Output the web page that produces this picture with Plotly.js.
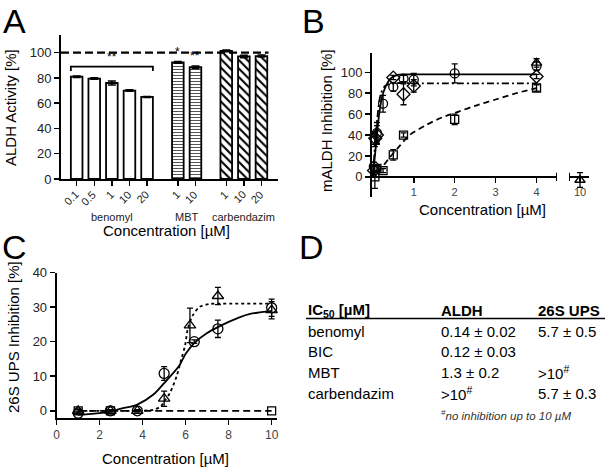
<!DOCTYPE html>
<html>
<head>
<meta charset="utf-8">
<script src="https://cdn.plot.ly/plotly-3.0.1.min.js"></script>
<style>html,body{margin:0;padding:0;background:#fff;}#chart{width:609px;height:468px;}</style>
</head>
<body>
<div id="chart"></div>
<script>
// ---------------- Panel A data ----------------
const aBenomylPos = [0, 1, 2, 3, 4];
const aBenomylLabels = ['0.1', '0.5', '1', '10', '20'];
const aBenomylVals = [81, 79.5, 76, 70, 65];
const aBenomylErr = [0.6, 0.6, 1.5, 0.6, 0.4];
const aMBTPos = [5.75, 6.75];
const aMBTLabels = ['1', '10'];
const aMBTVals = [92.3, 88.5];
const aMBTErr = [0.7, 1.0];
const aCarbPos = [8.5, 9.5, 10.5];
const aCarbLabels = ['1', '10', '20'];
const aCarbVals = [101.5, 97, 97.3];
const aCarbErr = [0.7, 1.0, 0.8];
const aGroupNames = ['benomyl', 'MBT', 'carbendazim'];
const aGroupCenters = [2, 6.25, 9.5];

// ---------------- Panel B data ----------------
const bCircX = [0.025, 0.05, 0.1, 0.25, 0.5, 0.75, 1, 2, 4];
const bCircY = [10, 35, 42, 70, 86, 94, 93, 99, 106];
const bCircE = [4, 6, 10, 8, 4, 3, 6, 9, 4];
const bDiamX = [0.03, 0.06, 0.1, 0.5, 0.75, 1, 4];
const bDiamY = [6, 37, 40, 95, 79, 87, 96];
const bDiamE = [4, 6, 9, 2, 10, 6, 2];
const bSqX = [0.05, 0.1, 0.25, 0.5, 0.75, 2, 4];
const bSqY = [0, 8, 6, 21, 40, 55, 85];
const bSqE = [11, 3, 2, 5, 2, 5, 3];
const bTriX = [4];
const bTriY = [109];
const bTriE = [4];
const bTri10X = [10];
const bTri10Y = [-3];
const bTri10E = [7];
const bFitSolidX = [0, 0.065, 0.12, 0.17, 0.23, 0.31, 0.43, 0.59, 0.76, 1, 4];
const bFitSolidY = [0, 25.6, 48, 64, 77, 86, 94, 97.4, 98, 98, 98];
const bFitDashDotX = [0, 0.05, 0.1, 0.15, 0.2, 0.3, 0.5, 1, 4];
const bFitDashDotY = [0, 28, 52, 70, 80, 87, 89.5, 89.5, 89.5];
const bFitDashX = [0.1, 0.2, 0.4, 0.6, 0.9, 1.3, 1.7, 2.1, 2.5, 3, 3.5, 4];
const bFitDashY = [5, 8, 18, 27, 40, 49.5, 57, 62.5, 68, 74, 80, 85];
const bTickVals = [1, 2, 3, 4];

// ---------------- Panel C data ----------------
const cCircX = [1, 2.5, 3.75, 5, 6.4, 7.5, 10];
const cCircY = [-0.7, 0, 0, 10.8, 20, 23.7, 29.8];
const cCircE = [0.3, 0.3, 0.3, 2, 0.5, 2.5, 2.5];
const cTriX = [1, 2.5, 3.75, 5, 6.2, 7.5, 10];
const cTriY = [0, 0, 0, 3.5, 24.7, 33.2, 29.1];
const cTriE = [0.3, 0.3, 0.3, 2.2, 5, 2.5, 2.5];
const cSqX = [1, 2.5, 10];
const cSqY = [0, 0, 0];
const cFitSolidX = [1, 2, 2.5, 3, 3.75, 4.5, 5, 5.7, 6, 6.4, 7, 7.5, 8.5, 9, 10];
const cFitSolidY = [-1.2, -0.7, -0.2, 0.6, 1.8, 4.7, 8, 13, 16.5, 19.6, 22.5, 24.2, 27, 28, 28.9];
const cFitDotX = [1, 2.5, 3.75, 4.5, 4.85, 5, 5.27, 5.58, 5.8, 5.97, 6.1, 6.33, 6.64, 7.1, 7.5, 10];
const cFitDotY = [0, 0, 0, 0.3, 1.3, 2.7, 5.2, 10, 15, 18.8, 23.7, 27.6, 30, 30.9, 31, 31];
const cFitDashX = [1, 10];
const cFitDashY = [0, 0];

// ---------------- Panel D table ----------------
const dHeader = ['<b>IC<sub>50</sub> [µM]</b>', '<b>ALDH</b>', '<b>26S UPS</b>'];
const dRowNames = ['benomyl', 'BIC', 'MBT', 'carbendazim'];
const dALDH = ['0.14 ± 0.02', '0.12 ± 0.03', '1.3 ± 0.2', '>10<sup>#</sup>'];
const dUPS = ['5.7 ± 0.5', '', '>10<sup>#</sup>', '5.7 ± 0.3'];
const dFootnote = '<i><sup>#</sup>no inhibition up to 10 µM</i>';

// ---------------- layout helpers ----------------
const W = 609, H = 468;
const PX = p => p / W;
const PY = p => 1 - p / H;
const FONT = 'Liberation Sans, Arial, Helvetica, sans-serif';
const BLACK = '#000';

const axBase = {
  showgrid: false, zeroline: false, showline: true, linecolor: BLACK, linewidth: 2,
  ticks: 'outside', ticklen: 5, tickwidth: 1.5, tickcolor: BLACK,
  tickfont: {family: FONT, size: 13, color: '#222'}, fixedrange: true
};

const traces = [];

// Panel A bars
function barTrace(x, y, err, pattern) {
  return {
    type: 'bar', x: x, y: y, xaxis: 'x', yaxis: 'y', width: 0.66,
    marker: {color: '#fff', line: {color: BLACK, width: 1.8}, pattern: pattern},
    error_y: {type: 'data', array: err, visible: true, color: BLACK, thickness: 1.5, width: 4},
    showlegend: false, hoverinfo: 'skip'
  };
}
traces.push(barTrace(aBenomylPos, aBenomylVals, aBenomylErr, {shape: ''}));
traces.push(barTrace(aMBTPos, aMBTVals, aMBTErr, {shape: '-', size: 3, solidity: 0.35, fgcolor: '#555', bgcolor: '#fff'}));
traces.push(barTrace(aCarbPos, aCarbVals, aCarbErr, {shape: '\\', size: 6, solidity: 0.35, fgcolor: BLACK, bgcolor: '#fff'}));

// Panel B
function pts(x, y, e, sym, xa, ya, size) {
  return {
    type: 'scatter', mode: 'markers', x: x, y: y, xaxis: xa, yaxis: ya, cliponaxis: false,
    marker: {symbol: sym, size: size, color: BLACK, line: {color: BLACK, width: 1.3}},
    error_y: e ? {type: 'data', array: e, visible: true, color: BLACK, thickness: 1.3, width: 3} : {visible: false},
    showlegend: false, hoverinfo: 'skip'
  };
}
function fit(x, y, dash, xa, ya) {
  return {
    type: 'scatter', mode: 'lines', x: x, y: y, xaxis: xa, yaxis: ya, cliponaxis: false,
    line: {color: BLACK, width: 1.8, dash: dash, shape: 'spline', smoothing: 0.8},
    showlegend: false, hoverinfo: 'skip'
  };
}
traces.push(fit(bFitSolidX, bFitSolidY, 'solid', 'x2', 'y2'));
traces.push(fit(bFitDashDotX, bFitDashDotY, '7px,3px,2px,3px', 'x2', 'y2'));
traces.push(fit(bFitDashX, bFitDashY, '6px,4px', 'x2', 'y2'));
traces.push(pts(bSqX, bSqY, bSqE, 'square-open', 'x2', 'y2', 8));
traces.push(pts(bDiamX, bDiamY, bDiamE, 'diamond-open', 'x2', 'y2', 10));
traces.push(pts(bCircX, bCircY, bCircE, 'circle-open', 'x2', 'y2', 9));
traces.push(pts(bTriX, bTriY, bTriE, 'triangle-up-open', 'x2', 'y2', 9));
traces.push(pts(bTri10X, bTri10Y, bTri10E, 'triangle-up-open', 'x3', 'y2', 9));

// Panel C
traces.push(fit(cFitSolidX, cFitSolidY, 'solid', 'x4', 'y4'));
traces.push(fit(cFitDotX, cFitDotY, 'dot', 'x4', 'y4'));
traces.push(fit(cFitDashX, cFitDashY, '7px,4px', 'x4', 'y4'));
traces.push(pts(cSqX, cSqY, null, 'square-open', 'x4', 'y4', 8));
traces.push(pts(cTriX, cTriY, cTriE, 'triangle-up-open', 'x4', 'y4', 10));
traces.push(pts(cCircX, cCircY, cCircE, 'circle-open', 'x4', 'y4', 10));

// Axes geometry
const aXRange = [-0.89, 11.44], aYRange = [0, 114];
const aXDom = [PX(61), PX(278)], aYDom = [PY(179), PY(35)];
const bXRange = [-0.02, 4.5], bYRange = [-19, 118.5];
const bXDom = [PX(372), PX(557)], bYDom = [PY(196.7), PY(53)];
const bX3Range = [9.45, 10.45], bX3Dom = [PX(569), PX(589)];
const bZeroPos = bYDom[0] + (0 - bYRange[0]) / (bYRange[1] - bYRange[0]) * (bYDom[1] - bYDom[0]);
const cXRange = [0, 10.25], cYRange = [-2, 40];
const cXDom = [PX(56.7), PX(277)], cYDom = [PY(417.7), PY(272.5)];

const allATicks = aBenomylPos.concat(aMBTPos, aCarbPos);
const allALabels = aBenomylLabels.concat(aMBTLabels, aCarbLabels);

const layout = {
  width: W, height: H, margin: {l: 0, r: 0, t: 0, b: 0},
  paper_bgcolor: '#fff', plot_bgcolor: 'rgba(0,0,0,0)', showlegend: false,
  font: {family: FONT, color: BLACK},
  bargap: 0,
  xaxis: Object.assign({}, axBase, {domain: aXDom, range: aXRange, anchor: 'y',
    tickvals: allATicks, showticklabels: false}),
  yaxis: Object.assign({}, axBase, {domain: aYDom, range: aYRange, anchor: 'x',
    tickvals: [0, 20, 40, 60, 80, 100]}),
  xaxis2: Object.assign({}, axBase, {domain: bXDom, range: bXRange, anchor: 'free', position: bZeroPos,
    tickvals: bTickVals, tickfont: {family: FONT, size: 11, color: '#444'}, ticklen: 5}),
  yaxis2: Object.assign({}, axBase, {domain: bYDom, range: bYRange, anchor: 'x2',
    tickvals: [0, 20, 40, 60, 80, 100]}),
  xaxis3: Object.assign({}, axBase, {domain: bX3Dom, range: bX3Range, anchor: 'free', position: bZeroPos,
    tickvals: [10], tickfont: {family: FONT, size: 11, color: '#444'}}),
  xaxis4: Object.assign({}, axBase, {domain: cXDom, range: cXRange, anchor: 'y4',
    tickvals: [0, 2, 4, 6, 8, 10], tickfont: {family: FONT, size: 12, color: '#444'}}),
  yaxis4: Object.assign({}, axBase, {domain: cYDom, range: cYRange, anchor: 'x4',
    tickvals: [0, 10, 20, 30, 40]}),
  shapes: [
    // Panel A reference line at 100 %
    {type: 'line', xref: 'x', yref: 'y', x0: aXRange[0], x1: 10.9, y0: 100, y1: 100,
     line: {color: BLACK, width: 2.2, dash: '8px,4px'}},
    // Panel A significance bracket over benomyl bars
    {type: 'path', xref: 'x', yref: 'y', path: 'M -0.33 85.5 L -0.33 89 L 4.33 89 L 4.33 85.5',
     line: {color: BLACK, width: 1.8}},
    // Panel B axis break ends
    {type: 'line', xref: 'x2', yref: 'paper', x0: 4.5, x1: 4.5, y0: bZeroPos - 0.009, y1: bZeroPos + 0.009,
     line: {color: BLACK, width: 2}},
    {type: 'line', xref: 'x3', yref: 'paper', x0: bX3Range[0], x1: bX3Range[0], y0: bZeroPos - 0.009, y1: bZeroPos + 0.009,
     line: {color: BLACK, width: 2}},
    // Panel D header rule
    {type: 'line', xref: 'paper', yref: 'paper', x0: PX(306), x1: PX(605), y0: PY(318.5), y1: PY(318.5),
     line: {color: BLACK, width: 1.5}}
  ],
  annotations: []
};

const ann = layout.annotations;
function txt(text, x, y, size, opts) {
  ann.push(Object.assign({text: text, x: x, y: y, xref: 'paper', yref: 'paper', showarrow: false,
    xanchor: 'center', yanchor: 'middle', font: {family: FONT, size: size, color: BLACK}}, opts || {}));
}
// Panel letters
txt('A', PX(14), PY(21), 34);
txt('B', PX(313), PY(21), 34);
txt('C', PX(14), PY(247), 34);
txt('D', PX(311), PY(247), 34);

// Panel A rotated tick labels
allATicks.forEach((t, i) => {
  ann.push({text: allALabels[i], x: t, y: PY(186), xref: 'x', yref: 'paper', showarrow: false,
    textangle: -45, xanchor: 'right', yanchor: 'top', xshift: 7,
    font: {family: FONT, size: 11, color: '#222'}});
});

// Panel A titles and group labels
txt('ALDH Activity [%]', PX(10), PY(108), 15, {textangle: -90});
txt('Concentration [µM]', PX(166), PY(230), 15);
aGroupNames.forEach((g, i) => {
  ann.push({text: g, x: aGroupCenters[i], y: PY(217), xref: 'x', yref: 'paper', showarrow: false,
    xanchor: 'center', yanchor: 'middle', font: {family: FONT, size: 11, color: '#222'}});
});
// Significance stars
ann.push({text: '**', x: 2, y: 89.5, xref: 'x', yref: 'y', showarrow: false, yanchor: 'bottom',
  font: {family: FONT, size: 12, color: BLACK}});
ann.push({text: '*', x: aMBTPos[0], y: aMBTVals[0] + 1, xref: 'x', yref: 'y', showarrow: false, yanchor: 'bottom',
  font: {family: FONT, size: 12, color: BLACK}});
ann.push({text: '**', x: aMBTPos[1], y: aMBTVals[1] + 1.5, xref: 'x', yref: 'y', showarrow: false, yanchor: 'bottom',
  font: {family: FONT, size: 12, color: BLACK}});

// Panel B titles
txt('mALDH Inhibition [%]', PX(327), PY(121), 15, {textangle: -90});
txt('Concentration [µM]', PX(482), PY(210), 15);

// Panel C titles
txt('26S UPS Inhibition [%]', PX(13), PY(337), 15, {textangle: -90});
txt('Concentration [µM]', PX(165), PY(458), 15);

// Panel D table
const colX = [PX(306), PX(439), PX(536)];
const rowY = [PY(331), PY(351.5), PY(372), PY(393)];
dHeader.forEach((h, i) => txt(h, colX[i], PY(310), 15, {xanchor: 'left'}));
dRowNames.forEach((r, i) => {
  txt(r, colX[0], rowY[i], 15, {xanchor: 'left'});
  if (dALDH[i]) txt(dALDH[i], colX[1], rowY[i], 15, {xanchor: 'left'});
  if (dUPS[i]) txt(dUPS[i], colX[2], rowY[i], 15, {xanchor: 'left'});
});
txt(dFootnote, colX[1], PY(415), 11.5, {xanchor: 'left', font: {family: FONT, size: 11.5, color: '#333'}});

Plotly.newPlot('chart', traces, layout, {staticPlot: true, displayModeBar: false});
</script>
</body>
</html>
